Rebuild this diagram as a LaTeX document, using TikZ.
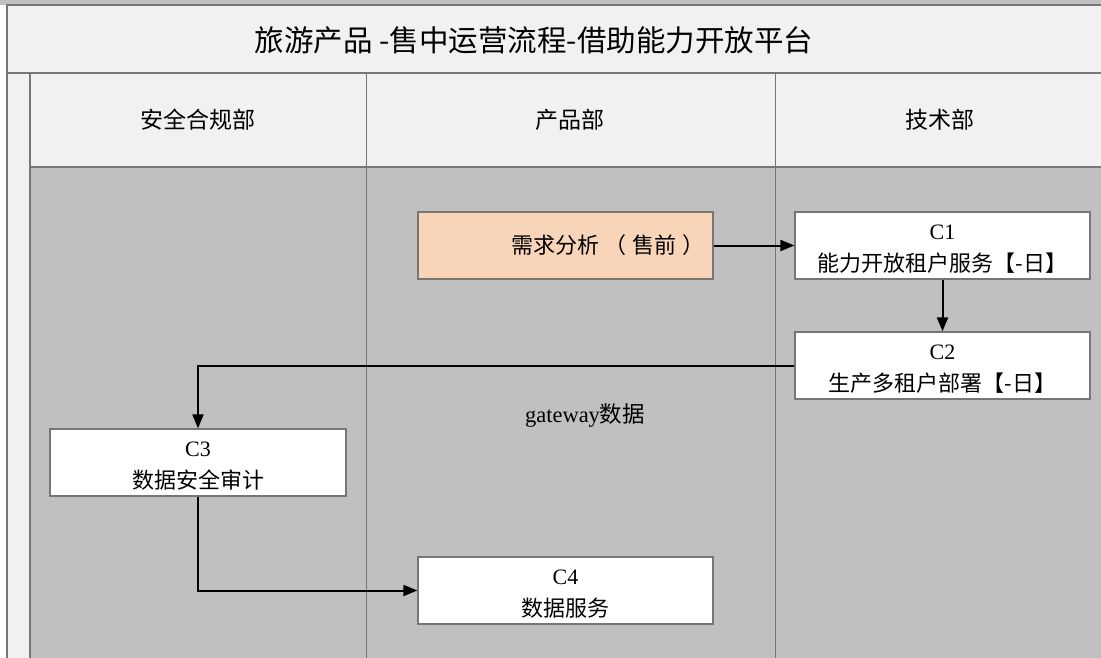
\documentclass[tikz,border=0pt]{standalone}
\usepackage{fontspec}
\setmainfont{Liberation Serif}
\newfontfamily\cjk{Noto Sans CJK SC}
\usetikzlibrary{arrows.meta}
\definecolor{lanegray}{HTML}{C0C0C0}
\definecolor{headfill}{HTML}{F1F1F1}
\definecolor{linegray}{HTML}{767676}
\definecolor{peach}{HTML}{F8D5B8}
\newcommand{\topstrut}{\rule{0pt}{21pt}}
\begin{document}
\begin{tikzpicture}[x=1pt,y=-1pt,
  frame/.style={draw=linegray,line width=1.5pt},
  task/.style={draw=linegray,line width=1.2pt,fill=white,minimum height=67pt,
    minimum width=295pt,align=center,inner sep=0pt,font=\fontsize{22}{32}\selectfont},
  head/.style={font=\cjk\fontsize{23}{26}\selectfont},
  flow/.style={line width=2pt,-{Triangle[length=14pt,width=11pt]}}]
\useasboundingbox (0,0) rectangle (1101,658);
% background
\fill[lanegray] (0,0) rectangle (1101,5);
\fill[white] (0,5) rectangle (7,658);
\fill[headfill] (7,5) rectangle (1101,167);
\fill[headfill] (7,167) rectangle (30,658);
\fill[lanegray] (30,167) rectangle (1101,658);
% frame lines
\draw[frame] (1101,5) -- (7,5) -- (7,658);
\draw[frame] (7,73) -- (1101,73);
\draw[frame] (30,167) -- (1101,167);
\draw[frame] (30,73) -- (30,658);
\draw[frame,line width=1pt] (366,73) -- (366,658);
\draw[frame,line width=1pt] (775,73) -- (775,658);
% title and headers
\node[font=\cjk\fontsize{29.5}{34}\selectfont] (title) at (534,40) {旅游产品 -售中运营流程-借助能力开放平台};
\node[head] (h1) at (198,120) {安全合规部};
\node[head] (h2) at (570,120) {产品部};
\node[head] (h3) at (940,120) {技术部};
% tasks
\node[task,fill=peach,text width=279pt,align=right] (req) at (565.5,245.5) {\cjk 需求分析\hspace{6pt}（\hspace{6pt}售前\hspace{6pt}）};
\node[task] (c1) at (942.5,245.5) {\topstrut C1\\\cjk 能力开放租户服务【-日】};
\node[task] (c2) at (942.5,365.5) {\topstrut C2\\\cjk 生产多租户部署【-日】};
\node[task,minimum width=296pt] (c3) at (198,462.5) {\topstrut C3\\\cjk 数据安全审计};
\node[task] (c4) at (565.5,590.5) {\topstrut C4\\\cjk 数据服务};
\node[font=\fontsize{22.5}{26}\selectfont] (gw) at (585,415) {gateway{\cjk 数据}};
% connectors
\draw[flow] (req) -- (c1);
\draw[flow] (c1) -- (c2);
\draw[flow] (c2.west) -| (c3.north);
\draw[flow] (c3.south) |- (c4.west);
\end{tikzpicture}
\end{document}
